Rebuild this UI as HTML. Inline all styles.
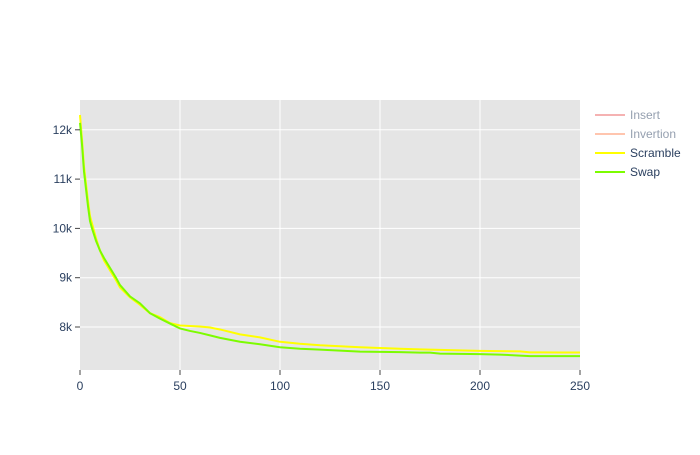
<!DOCTYPE html>
<html><head><meta charset="utf-8"><style>
body{margin:0;background:#fff;font-family:"Liberation Sans",sans-serif;}
svg text{font-family:"Liberation Sans",sans-serif;font-size:12px;}
</style></head><body>
<svg id="chart" width="700" height="450" xmlns="http://www.w3.org/2000/svg">
<rect x="80" y="100" width="500" height="270" fill="#e5e5e5"/>
<g id="grid"></g><g id="series"></g><g id="axes"></g>
<g>
<g><line x1="595" y1="115" x2="625" y2="115" stroke="#f08080" stroke-width="2" opacity="0.6"/><text x="630" y="119" fill="#2a3f5f" opacity="0.5">Insert</text></g>
<g><line x1="595" y1="134" x2="625" y2="134" stroke="#ffa07a" stroke-width="2" opacity="0.6"/><text x="630" y="138" fill="#2a3f5f" opacity="0.5">Invertion</text></g>
<g><line x1="595" y1="153" x2="625" y2="153" stroke="#ffff00" stroke-width="2"/><text x="630" y="157" fill="#2a3f5f">Scramble</text></g>
<g><line x1="595" y1="172" x2="625" y2="172" stroke="#7cfc00" stroke-width="2"/><text x="630" y="176" fill="#2a3f5f">Swap</text></g>
</g>
</svg>
<script>
const xs=[0,1,2,3,4,5,6,8,10,12,15,18,20,25,30,35,40,45,50,55,60,65,70,80,90,100,110,120,130,140,150,160,170,175,180,190,200,210,220,225,230,240,250];
const swapVals=[12140,11700,11150,10800,10450,10150,10000,9750,9550,9400,9200,9000,8850,8620,8480,8280,8170,8070,7970,7920,7880,7830,7780,7700,7650,7590,7560,7540,7520,7500,7495,7490,7480,7480,7460,7455,7450,7440,7420,7410,7410,7410,7410];
const scrambleVals=[12300,11800,11250,10900,10550,10250,10100,9800,9550,9350,9150,8950,8800,8600,8450,8280,8200,8080,8030,8020,8010,7990,7950,7850,7790,7700,7660,7630,7610,7590,7575,7560,7545,7540,7535,7525,7515,7510,7505,7485,7485,7483,7483];
const xTicks=[0,50,100,150,200,250];
const yTicks=[8000,9000,10000,11000,12000];
const yTickLabels=["8k","9k","10k","11k","12k"];
const X=v=>80+v*2;
const Y=v=>327-(v-8000)*0.0493;
const NS="http://www.w3.org/2000/svg";
const grid=document.getElementById('grid'),axes=document.getElementById('axes'),ser=document.getElementById('series');
function mk(tag,attrs,parent){const e=document.createElementNS(NS,tag);for(const k in attrs)e.setAttribute(k,attrs[k]);parent.appendChild(e);return e;}
xTicks.forEach(t=>{
 if(t>0&&t<250){const l=mk('line',{x1:X(t),x2:X(t),y1:100,y2:370,stroke:'#fff','stroke-width':1},grid);
 
 }
 const tk=mk('line',{x1:X(t),x2:X(t),y1:370,y2:375,stroke:'#444'},axes);
 
 
 const tx=mk('text',{x:X(t),y:390,'text-anchor':'middle',fill:'#2a3f5f'},axes);tx.textContent=t;
 
 
});
yTicks.forEach((t,i)=>{
 const l=mk('line',{x1:80,x2:580,y1:Y(t),y2:Y(t),stroke:'#fff','stroke-width':1},grid);
 
 
 const tk=mk('line',{x1:75,x2:80,y1:Y(t),y2:Y(t),stroke:'#444'},axes);
 
 
 const tx=mk('text',{x:72,y:Y(t)+4,'text-anchor':'end',fill:'#2a3f5f'},axes);tx.textContent=yTickLabels[i];
 
 
});
function line(vals,color,name){
 const p=mk('polyline',{points:xs.map((x,i)=>X(x)+','+Y(vals[i])).join(' '),fill:'none',stroke:color,'stroke-width':2},ser);
 
 
}
line(scrambleVals,'#ffff00','scramble-line');
line(swapVals,'#7cfc00','swap-line');
</script>
</body></html>
